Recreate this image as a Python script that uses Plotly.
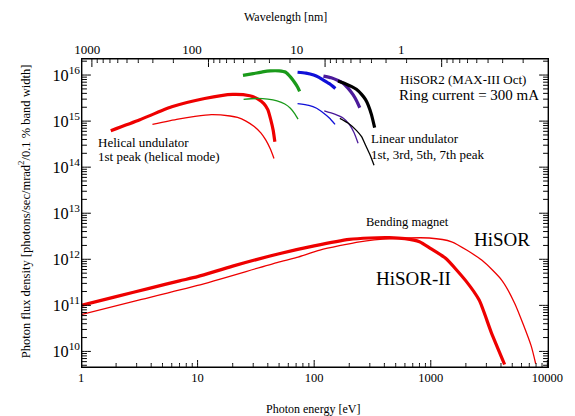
import math
import plotly.graph_objects as go

# ---------------- data (photon energy [eV], flux density) ----------------
bm2_E = [1, 2, 4, 7, 10, 20, 50, 100, 200, 300, 440, 600, 800, 1000, 1340, 2000, 2600, 3300, 4300]
bm2_F = [1.0e11, 1.55e11, 2.4e11, 3.4e11, 4.2e11, 7.1e11, 1.32e12, 1.95e12, 2.7e12, 2.9e12,
         2.95e12, 2.8e12, 2.4e12, 1.7e12, 1.05e12, 3.4e11, 1.3e11, 2.6e10, 5.2e9]

bm1_E = [1, 3, 10, 48, 71, 112, 245, 470, 970, 1510, 2750, 4070, 5250, 7240, 7940]
bm1_F = [6.3e10, 1.26e11, 2.7e11, 8.5e11, 1.1e12, 1.58e12, 2.4e12, 2.8e12, 2.9e12, 2.4e12,
         9.5e11, 3.5e11, 1.1e11, 1.35e10, 5.4e9]

hel2_E = [1.8, 3.2, 6.0, 11.5, 20, 28, 33, 37, 40, 42.5, 44.5, 46]
hel2_F = [6.2e14, 1.07e15, 2.04e15, 3.1e15, 3.8e15, 3.55e15, 3.0e15, 2.4e15, 1.78e15, 1.05e15, 6.3e14, 3.55e14]

hel1_E = [4.1, 6.8, 9.5, 13.1, 19, 22, 26, 30.6, 35, 38.4, 42, 45.2]
hel1_F = [8.5e14, 1.1e15, 1.26e15, 1.38e15, 1.29e15, 1.2e15, 1.0e15, 7.6e14, 5.5e14, 3.9e14, 2.5e14, 1.55e14]

g2_E = [24.5, 30, 36, 42, 50, 57, 63, 68, 72, 75]
g2_F = [9.8e15, 1.07e16, 1.17e16, 1.23e16, 1.23e16, 1.15e16, 8.9e15, 6.9e15, 5.5e15, 4.4e15]
g1_E = [24.8, 32.6, 40, 48, 56, 62.5, 68, 72.7]
g1_F = [2.95e15, 3.1e15, 3.0e15, 2.75e15, 2.35e15, 1.9e15, 1.45e15, 1.1e15]

b2_E = [72, 85, 99, 110, 120, 135, 152]
b2_F = [1.15e16, 1.1e16, 1.0e16, 8.9e15, 7.8e15, 6.5e15, 5.1e15]
b1_E = [72, 90, 105, 120, 135, 151]
b1_F = [2.4e15, 2.2e15, 1.9e15, 1.5e15, 1.17e15, 8.5e14]

p2_E = [120, 140, 160, 178, 195, 216, 232, 246]
p2_F = [9.5e15, 8.7e15, 7.6e15, 6.6e15, 5.2e15, 3.7e15, 2.7e15, 1.95e15]
p1_E = [122, 150, 178, 200, 220, 238]
p1_F = [1.66e15, 1.41e15, 1.15e15, 8.5e14, 5.6e14, 3.3e14]

k2_E = [160, 185, 210, 230, 255, 275, 290, 310, 330]
k2_F = [7.4e15, 6.5e15, 5.6e15, 4.9e15, 3.8e15, 2.95e15, 2.25e15, 1.38e15, 7.2e14]
k1_E = [166, 195, 230, 255, 276, 300, 326]
k1_F = [1.15e15, 9.1e14, 6.3e14, 4.6e14, 3.0e14, 1.9e14, 1.1e14]

energy_ticks = [1, 10, 100, 1000, 10000]
wl_ticks = [1000, 100, 10, 1]
flux_decades = [1e10, 1e11, 1e12, 1e13, 1e14, 1e15, 1e16]

RED = "#ee0000"
GREEN = "#1a9a1a"
BLUE = "#1010d8"
PURPLE = "#4b1a9a"
BLACK = "#000000"
FONT = "Liberation Serif"
THICK, THIN = 3.2, 1.3

series = [
    (bm1_E, bm1_F, RED, THIN), (bm2_E, bm2_F, RED, THICK),
    (hel1_E, hel1_F, RED, THIN), (hel2_E, hel2_F, RED, THICK),
    (g1_E, g1_F, GREEN, THIN), (g2_E, g2_F, GREEN, THICK),
    (b1_E, b1_F, BLUE, THIN), (b2_E, b2_F, BLUE, THICK),
    (p1_E, p1_F, PURPLE, THIN), (p2_E, p2_F, PURPLE, THICK),
    (k1_E, k1_F, BLACK, THIN), (k2_E, k2_F, BLACK, THICK),
]

W, H = 575, 416
ML, MR, MT, MB = 81, 20, 58, 48
LOGE = [0, 4.014]
LOGW = [3.0934, -0.9206]
LOGF = [9.64, 16.37]
PX_X = (W - ML - MR) / (LOGE[1] - LOGE[0])   # pixels per decade, horizontal
PX_Y = (H - MT - MB) / (LOGF[1] - LOGF[0])   # pixels per decade, vertical

def minors(decades):
    return [m * d for d in decades for m in range(2, 10)]

def inrange(vals, rng):
    lo, hi = min(rng), max(rng)
    return [v for v in vals if lo <= math.log10(v) <= hi]

e_major = inrange(energy_ticks, LOGE)
e_minor = inrange(minors([1, 10, 100, 1000]), LOGE)
w_major = inrange(wl_ticks, LOGW)
w_minor = inrange(minors([0.1, 1, 10, 100, 1000]), LOGW)
f_major = inrange(flux_decades, LOGF)
f_minor = inrange(minors([1e9, 1e10, 1e11, 1e12, 1e13, 1e14, 1e15, 1e16]), LOGF)

fig = go.Figure()
for xs, ys, c, w in series:
    fig.add_trace(go.Scatter(x=xs, y=ys, mode="lines",
                             line=dict(color=c, width=w, shape="spline", smoothing=0.6),
                             showlegend=False, hoverinfo="skip"))
fig.add_trace(go.Scatter(x=[], y=[], xaxis="x3", yaxis="y", showlegend=False, hoverinfo="skip"))

AXLINE = dict(color="black", width=1, shape="spline", smoothing=0.5, simplify=False)

def seg(a, b):
    # straight segment in log space given as three collinear points
    return [10 ** a, 10 ** ((a + b) / 2), 10 ** b, None]

# ---- axis ticks, drawn as line traces through the axes' own scales ----
def vticks(vals, xaxis, top, length):
    d = length / PX_Y
    y0 = LOGF[1] if top else LOGF[0]
    y1 = y0 - d if top else y0 + d
    xs, ys = [], []
    for v in vals:
        xs += [v, v, v, None]
        ys += seg(y0, y1)
    fig.add_trace(go.Scatter(x=xs, y=ys, xaxis=xaxis, yaxis="y", mode="lines",
                             line=AXLINE, showlegend=False, hoverinfo="skip"))

def hticks(vals, right, length):
    d = length / PX_X
    x0 = LOGE[1] if right else LOGE[0]
    x1 = x0 - d if right else x0 + d
    xs, ys = [], []
    for v in vals:
        xs += seg(x0, x1)
        ys += [v, v, v, None]
    fig.add_trace(go.Scatter(x=xs, y=ys, mode="lines",
                             line=AXLINE, showlegend=False, hoverinfo="skip"))

vticks(e_major, "x", False, 8)
vticks(e_minor, "x", False, 5)
vticks(w_major, "x2", True, 9)
vticks(w_minor, "x2", True, 5)
for right in (False, True):
    hticks(f_major, right, 10)
    hticks(f_minor, right, 6)

# plot frame (four straight edges)
E0, E1 = LOGE
F0, F1 = LOGF
fx = seg(E0, E1) + [10 ** E1] * 3 + [None] + seg(E1, E0) + [10 ** E0] * 3 + [None]
fy = [10 ** F0] * 3 + [None] + seg(F0, F1) + [10 ** F1] * 3 + [None] + seg(F1, F0)
fig.add_trace(go.Scatter(x=fx, y=fy, mode="lines",
                         line=dict(color="black", width=2.8, shape="spline", smoothing=0.5,
                                   simplify=False),
                         showlegend=False, hoverinfo="skip"))

base = dict(type="log", showgrid=False, zeroline=False, ticks="", showline=False)

fig.update_layout(
    width=W, height=H,
    margin=dict(l=ML, r=MR, t=MT, b=MB),
    paper_bgcolor="white", plot_bgcolor="white",
    font=dict(family=FONT, color="black"),
    showlegend=False,
    xaxis=dict(range=LOGE, tickmode="array",
               tickvals=energy_ticks, ticktext=[str(v) for v in energy_ticks],
               tickfont=dict(size=12.5, family=FONT), **base),
    xaxis2=dict(range=LOGW, overlaying="x", side="top", anchor="y",
                showticklabels=False, **base),
    xaxis3=dict(range=[3.06, -1.411], overlaying="x", side="top", anchor="y",
                tickmode="array", tickvals=wl_ticks,
                ticktext=[str(v) for v in wl_ticks], tickfont=dict(size=13, family=FONT), **base),
    yaxis=dict(range=LOGF, dtick=1, exponentformat="power", showexponent="all",
               tickfont=dict(size=13, family=FONT), **base),
)

def ann(text, x, y, size, xanchor="center", angle=0):
    fig.add_annotation(text=text, x=x, y=y, xref="paper", yref="paper", showarrow=False,
                       xanchor=xanchor, yanchor="middle", textangle=angle,
                       font=dict(size=size, family=FONT, color="black"))

ann("HiSOR2 (MAX-III Oct)", 0.677, 0.932, 13, "left")
ann("Ring current = 300 mA", 0.675, 0.881, 15, "left")
ann("Helical undulator", 0.0316, 0.729, 13, "left")
ann("1st peak (helical mode)", 0.0316, 0.681, 13, "left")
ann("Linear undulator", 0.616, 0.739, 13, "left")
ann("1st, 3rd, 5th, 7th peak", 0.616, 0.690, 13, "left")
ann("Bending magnet", 0.698, 0.471, 12.5)
ann("HiSOR", 0.899, 0.413, 19)
ann("HiSOR-II", 0.711, 0.290, 19)
ann("Wavelength [nm]", 0.437, 1.132, 12)
ann("Photon energy [eV]", 0.496, -0.132, 12)
ann("Photon flux density [photons/sec/mrad<sup>2</sup>/0.1 % band width]", -0.120, 0.505, 12.5, "center", -90)

fig.write_html("out.html", config={"displayModeBar": False},
               post_script="document.body.style.margin='0';document.body.style.overflow='hidden';")
